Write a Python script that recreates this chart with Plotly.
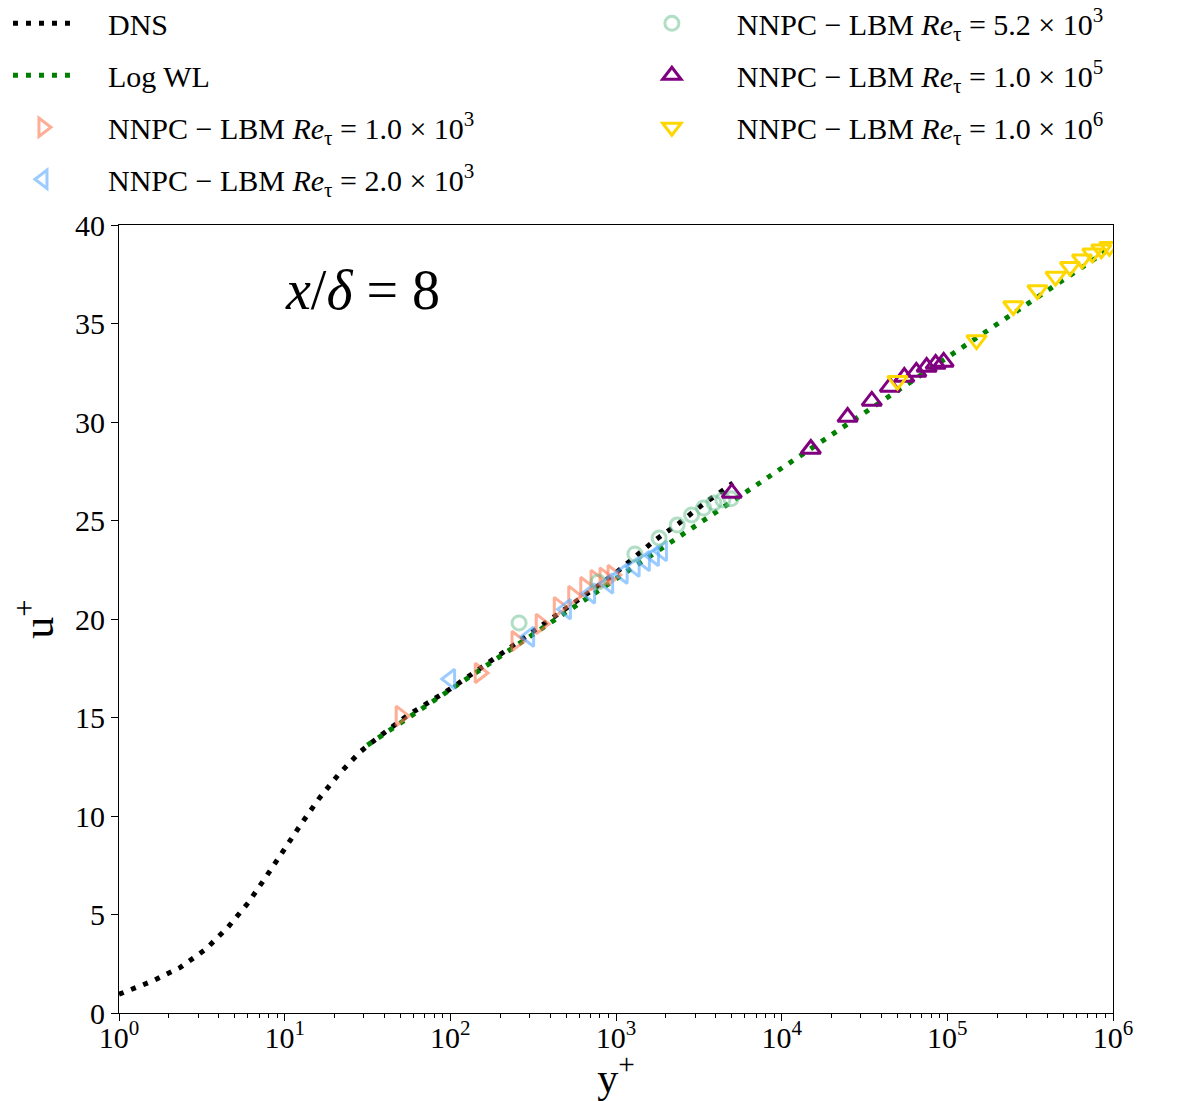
import plotly.graph_objects as go

# DNS profile
dns_y = [1.0, 1.59, 2.33, 3.33, 4.54, 6.03, 7.7, 9.75, 12.5, 16.1, 21.1, 28.5, 33.8, 55,
         100, 200, 400, 700, 1000, 1700, 2400, 3400, 4100, 5070]
dns_u = [0.95, 1.62, 2.3, 3.23, 4.35, 5.6, 6.9, 8.24, 9.56, 10.88, 12.1, 13.25, 13.76, 15.1,
         16.45, 18.2, 19.95, 21.4, 22.35, 23.97, 24.86, 25.87, 26.33, 26.9]

# Log wall law (straight line in semilog)
wl_y = [31.6, 1.0e6]
wl_u = [13.6, 38.9]

re1k_y = [50, 150, 250, 350, 450, 550, 650, 750, 850, 950]
re1k_u = [15.08, 17.26, 18.88, 19.75, 20.6, 21.17, 21.62, 21.98, 22.1, 22.23]

re2k_y = [100, 300, 500, 700, 900, 1100, 1300, 1500, 1700, 1900]
re2k_u = [16.95, 19.1, 20.5, 21.3, 21.8, 22.3, 22.65, 22.95, 23.2, 23.45]

re52_y = [260, 780, 1300, 1820, 2340, 2860, 3380, 3900, 4420, 4940]
re52_u = [19.8, 21.88, 23.3, 24.11, 24.77, 25.28, 25.63, 25.89, 26.04, 26.1]

re1e5_y = [5000, 15000, 25000, 35000, 45000, 55000, 65000, 75000, 85000, 95000]
re1e5_u = [26.4, 28.63, 30.25, 31.07, 31.78, 32.28, 32.54, 32.79, 32.94, 33.05]

re1e6_y = [50000, 150000, 250000, 350000, 450000, 550000, 650000, 750000, 850000, 950000]
re1e6_u = [32.1, 34.16, 35.89, 36.7, 37.38, 37.88, 38.26, 38.56, 38.77, 38.9]

x_tick_vals = [1, 10, 100, 1000, 1e4, 1e5, 1e6]
x_tick_text = ["10<sup>0</sup>", "10<sup>1</sup>", "10<sup>2</sup>", "10<sup>3</sup>",
               "10<sup>4</sup>", "10<sup>5</sup>", "10<sup>6</sup>"]
y_tick_vals = [0, 5, 10, 15, 20, 25, 30, 35, 40]

FONT = "Liberation Serif"
PAD = "\u00a0" * 4

def lbl(s):
    return PAD + "NNPC \u2212 LBM <i>Re</i><sub>\u03c4</sub> = " + s

fig = go.Figure()
fig.add_trace(go.Scatter(x=dns_y, y=dns_u, mode="lines", name=PAD + "DNS",
                         line=dict(color="black", width=5, dash="5px,8px"),
                         legend="legend", legendgroup="a"))
fig.add_trace(go.Scatter(x=wl_y, y=wl_u, mode="lines", name=PAD + "Log WL",
                         line=dict(color="green", width=5, dash="5px,8px"),
                         legend="legend", legendgroup="b"))

series = [
    (re1k_y, re1k_u, "triangle-right-open", "rgba(255,120,80,0.6)", lbl("1.0 \u00d7 10<sup>3</sup>"), "legend", "c"),
    (re2k_y, re2k_u, "triangle-left-open", "rgba(90,170,255,0.6)", lbl("2.0 \u00d7 10<sup>3</sup>"), "legend", "d"),
    (re52_y, re52_u, "circle-open", "rgba(100,190,140,0.5)", lbl("5.2 \u00d7 10<sup>3</sup>"), "legend2", "e"),
    (re1e5_y, re1e5_u, "triangle-up-open", "rgb(128,0,128)", lbl("1.0 \u00d7 10<sup>5</sup>"), "legend2", "f"),
    (re1e6_y, re1e6_u, "triangle-down-open", "rgb(255,215,0)", lbl("1.0 \u00d7 10<sup>6</sup>"), "legend2", "g"),
]
for xs, ys, sym, col, name, lg, grp in series:
    size = 14 if sym == "circle-open" else 17
    fig.add_trace(go.Scatter(x=xs, y=ys, mode="markers", name=name,
                             marker=dict(symbol=sym, size=size, color=col,
                                         line=dict(width=3, color=col)),
                             legend=lg, legendgroup=grp))

fig.add_annotation(x=0.245, y=0.918, xref="paper", yref="paper",
                   text="<i>x</i>/<i>\u03b4</i> = 8", showarrow=False,
                   font=dict(family=FONT, size=56, color="black"),
                   xanchor="center", yanchor="middle")

axis_common = dict(showline=True, linecolor="black", linewidth=1, mirror=True,
                   ticks="outside", ticklen=7, tickwidth=1, tickcolor="black",
                   showgrid=False, zeroline=False,
                   tickfont=dict(family=FONT, size=30, color="black"))

fig.update_xaxes(type="log", range=[0, 6], tickvals=x_tick_vals, ticktext=x_tick_text,
                 ticklabelstandoff=-9,
                 minor=dict(ticks="outside", ticklen=4, tickcolor="black",
                            tickvals=[m * 10 ** k for k in range(6) for m in range(2, 10)]),
                 title=dict(text="y<sup>+</sup>", font=dict(family=FONT, size=42, color="black"),
                            standoff=17),
                 **axis_common)
fig.update_yaxes(range=[0, 40], tickvals=y_tick_vals,
                 title=dict(text="u<sup>+</sup>", font=dict(family=FONT, size=44, color="black"),
                            standoff=12),
                 **axis_common)

leg_common = dict(font=dict(family=FONT, size=30, color="black"), bgcolor="rgba(0,0,0,0)",
                  yanchor="top", xanchor="left", tracegroupgap=10, itemwidth=60,
                  orientation="v")
fig.update_layout(
    width=1192, height=1093,
    margin=dict(l=111, r=87, t=217, b=88, autoexpand=False),
    paper_bgcolor="white", plot_bgcolor="white",
    showlegend=True,
    legend=dict(x=-0.1117, y=1.289, **leg_common),
    legend2=dict(x=0.521, y=1.289, **leg_common),
)

fig.write_html("out.html")
